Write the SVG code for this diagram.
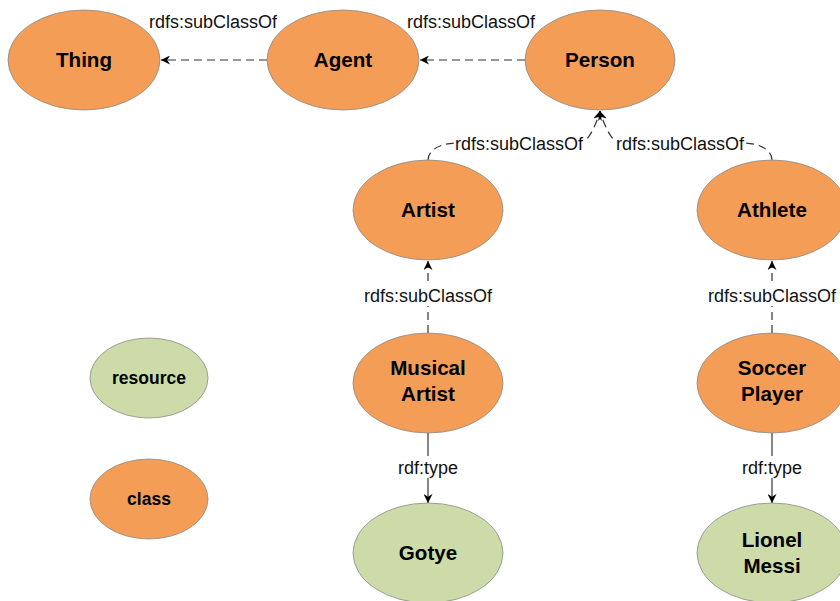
<svg xmlns="http://www.w3.org/2000/svg" width="840" height="601" viewBox="0 0 840 601">
<style>
.cls{fill:#F49D56;stroke:#8a8a8a;stroke-width:0.8}
.res{fill:#CCDBA8;stroke:#8a8a8a;stroke-width:0.8}
.nt{font-family:"Liberation Sans",Arial,sans-serif;font-weight:bold;font-size:20.6px;text-anchor:middle;fill:#000}
.lt{font-family:"Liberation Sans",Arial,sans-serif;font-weight:bold;font-size:17.5px;text-anchor:middle;fill:#000}
.el{font-family:"Liberation Sans",Arial,sans-serif;font-size:18px;text-anchor:middle;fill:#111}
.dash{fill:none;stroke:#333;stroke-width:1.2;stroke-dasharray:8 5}
.solid{fill:none;stroke:#333;stroke-width:1.2}
</style>
<defs>
<marker id="arr" viewBox="0 0 10 10" refX="10" refY="5" markerWidth="9" markerHeight="9" markerUnits="userSpaceOnUse" orient="auto">
<path d="M0,0 L10,5 L0,10 L3,5 z" fill="#000"/>
</marker>
</defs>
<g id="connectors">
<line class="dash" x1="267" y1="60" x2="161" y2="60" marker-end="url(#arr)"/>
<line class="dash" x1="525" y1="60" x2="420" y2="60" marker-end="url(#arr)"/>
<path class="dash" d="M428,160 C428,150 440,143 458,143 L580,143 C588,143 596,125 600,111" marker-end="url(#arr)"/>
<path class="dash" d="M772,160 C772,150 760,143 742,143 L620,143 C612,143 604,125 600,111" marker-end="url(#arr)"/>
<line class="dash" x1="428" y1="333" x2="428" y2="261" marker-end="url(#arr)"/>
<line class="dash" x1="772" y1="333" x2="772" y2="261" marker-end="url(#arr)"/>
<line class="solid" x1="428" y1="433" x2="428" y2="503" marker-end="url(#arr)"/>
<line class="solid" x1="772" y1="433" x2="772" y2="503" marker-end="url(#arr)"/>
<rect x="147" y="10" width="132" height="22" fill="#fff"/>
<text class="el" x="213" y="28">rdfs:subClassOf</text>
<rect x="406" y="10" width="131" height="22" fill="#fff"/>
<text class="el" x="471" y="28">rdfs:subClassOf</text>
<rect x="454" y="132" width="130" height="22" fill="#fff"/>
<text class="el" x="519" y="149.5">rdfs:subClassOf</text>
<rect x="615" y="132" width="130" height="22" fill="#fff"/>
<text class="el" x="680" y="149.5">rdfs:subClassOf</text>
<rect x="362" y="284" width="132" height="22" fill="#fff"/>
<text class="el" x="428" y="301.5">rdfs:subClassOf</text>
<rect x="706" y="284" width="132" height="22" fill="#fff"/>
<text class="el" x="772" y="301.5">rdfs:subClassOf</text>
<rect x="396" y="456" width="64" height="22" fill="#fff"/>
<text class="el" x="428" y="473.5">rdf:type</text>
<rect x="740" y="456" width="64" height="22" fill="#fff"/>
<text class="el" x="772" y="473.5">rdf:type</text>
</g>
<g id="thing"><ellipse class="cls" cx="84" cy="60" rx="76" ry="50"/><text class="nt" x="84" y="67">Thing</text></g>
<g id="agent"><ellipse class="cls" cx="343" cy="60" rx="76" ry="50"/><text class="nt" x="343" y="67">Agent</text></g>
<g id="person"><ellipse class="cls" cx="600" cy="60" rx="75" ry="50"/><text class="nt" x="600" y="67">Person</text></g>
<g id="artist"><ellipse class="cls" cx="428" cy="210" rx="75" ry="50"/><text class="nt" x="428" y="217">Artist</text></g>
<g id="athlete"><ellipse class="cls" cx="772" cy="210" rx="75" ry="50"/><text class="nt" x="772" y="217">Athlete</text></g>
<g id="musical-artist"><ellipse class="cls" cx="428" cy="383" rx="75" ry="50"/><text class="nt" x="428" y="375">Musical</text><text class="nt" x="428" y="401">Artist</text></g>
<g id="soccer-player"><ellipse class="cls" cx="772" cy="383" rx="75" ry="50"/><text class="nt" x="772" y="375">Soccer</text><text class="nt" x="772" y="401">Player</text></g>
<g id="gotye"><ellipse class="res" cx="428" cy="553" rx="75" ry="50"/><text class="nt" x="428" y="560">Gotye</text></g>
<g id="lionel-messi"><ellipse class="res" cx="772" cy="553" rx="75" ry="50"/><text class="nt" x="772" y="547">Lionel</text><text class="nt" x="772" y="573">Messi</text></g>
<g id="legend-resource"><ellipse class="res" cx="149" cy="378" rx="59" ry="40"/><text class="lt" x="149" y="384">resource</text></g>
<g id="legend-class"><ellipse class="cls" cx="149" cy="499" rx="59" ry="40"/><text class="lt" x="149" y="505">class</text></g>
</svg>
